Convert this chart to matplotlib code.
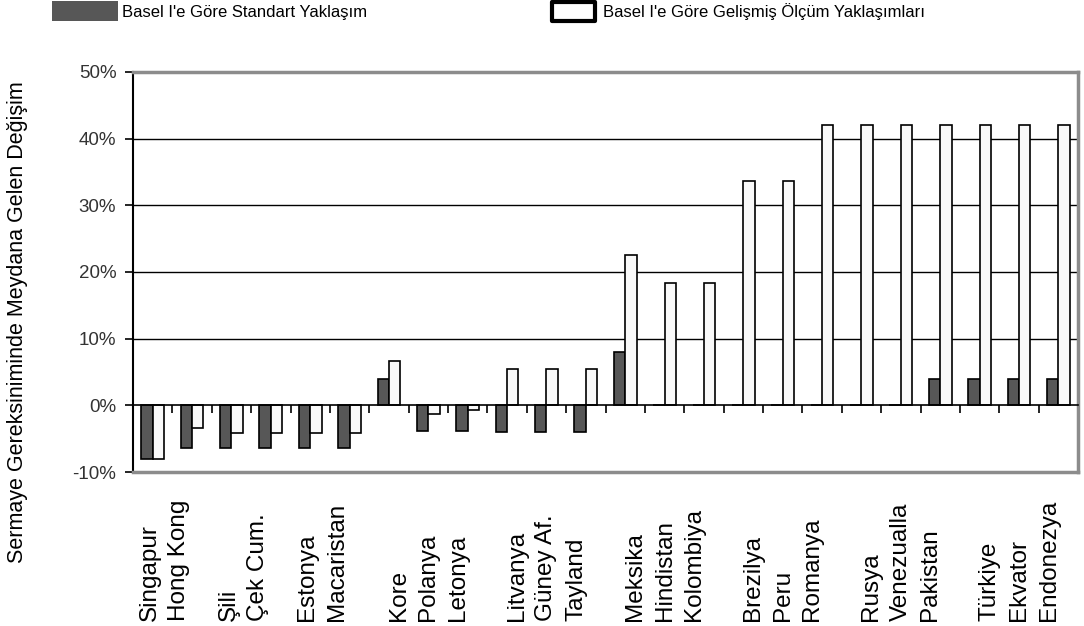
import matplotlib
matplotlib.use("Agg")

import numpy as np
import matplotlib.pyplot as plt
from matplotlib.patches import Rectangle
from matplotlib.transforms import blended_transform_factory

plt.rcParams["font.family"] = ["Liberation Sans", "DejaVu Sans"]

# ==========================
# DATA
# ==========================

countries = ["Singapur", "Hong Kong", "Şili", "Çek Cum.", "Estonya", "Macaristan",
             "Kore", "Polanya", "Letonya", "Litvanya", "Güney Af.", "Tayland",
             "Meksika", "Hindistan", "Kolombiya", "Brezilya", "Peru", "Romanya",
             "Rusya", "Venezualla", "Pakistan", "Türkiye", "Ekvator", "Endonezya"]

# capital requirement change (%)
standard = [-8.0, -6.4, -6.4, -6.4, -6.4, -6.4, 4.0, -3.9, -3.9, -4.0, -4.0, -4.0,
            8.0, 0.0, 0.0, 0.0, 0.0, 0.0, 0.0, 0.0, 4.0, 4.0, 4.0, 4.0]
advanced = [-8.0, -3.4, -4.2, -4.2, -4.2, -4.2, 6.6, -1.3, -0.7, 5.5, 5.5, 5.5,
            22.6, 18.3, 18.3, 33.6, 33.6, 42.0, 42.0, 42.0, 42.0, 42.0, 42.0, 42.0]

# country names are stacked into wrapped category labels
label_groups = [2, 2, 2, 3, 3, 3, 3, 3, 3]

y_ticks = [-10, 0, 10, 20, 30, 40, 50]

legend_std = "Basel I'e Göre Standart Yaklaşım"
legend_adv = "Basel I'e Göre Gelişmiş Ölçüm Yaklaşımları"
y_title = "Sermaye Gereksiniminde Meydana Gelen Değişim"

# ==========================
# STYLE
# ==========================

DARK = "#575757"
LIGHT = "#f9f9f9"
FRAME = "#8c8c8c"
BAR_W = 0.29

W, H = 1084, 626


def fx(px):
    return px / W


def fy(py):
    return 1 - py / H


def main():
    fig = plt.figure(figsize=(W / 100, H / 100), dpi=100)
    ax = fig.add_axes([fx(133), fy(472), fx(1078) - fx(133), fy(72) - fy(472)])

    x = np.arange(len(countries))

    for v in y_ticks[2:-1]:
        ax.axhline(v, color="black", lw=1.0, zorder=0)

    ax.bar(x - BAR_W / 2, standard, BAR_W, color=DARK, edgecolor="black", lw=1.2, zorder=2)
    ax.bar(x + BAR_W / 2, advanced, BAR_W, color=LIGHT, edgecolor="black", lw=1.2, zorder=2)

    ax.set_xlim(-0.5, len(countries) - 0.5)
    ax.set_ylim(-10, 50)

    # y axis
    ax.set_yticks(y_ticks)
    ax.set_yticklabels([f"{v}%" for v in y_ticks])
    ax.tick_params(axis="y", direction="out", length=6, width=1.2, color="black",
                   labelsize=13.5, labelcolor="#333333", pad=6)

    # x axis sits on the zero line, ticks between categories
    ax.spines["bottom"].set_position(("data", 0))
    ax.spines["bottom"].set_color("black")
    ax.spines["bottom"].set_linewidth(1.2)
    ax.set_xticks(np.arange(-0.5, len(countries), 1))
    ax.set_xticklabels([])
    ax.tick_params(axis="x", direction="out", length=6, width=1.2, color="black")

    ax.spines["left"].set_color("black")
    ax.spines["left"].set_linewidth(1.5)
    for side in ("top", "right"):
        ax.spines[side].set_color(FRAME)
        ax.spines[side].set_linewidth(2.5)
    ax.axhline(-10, color=FRAME, lw=2.5, clip_on=False, zorder=3)

    # wrapped category labels
    trans = blended_transform_factory(ax.transData, fig.transFigure)
    start = 0
    for n in label_groups:
        names = countries[start:start + n]
        xpos = np.mean(x[start:start + n]) - (0.2 if n == 2 else 0.0)
        ax.text(xpos, fy(621), "\n".join(names), transform=trans, rotation=90,
                ha="center", va="bottom", multialignment="left",
                fontsize=17.5, linespacing=1.45)
        start += n

    fig.text(fx(18), fy(322), y_title, rotation=90, ha="center", va="center",
             fontsize=15.5)

    # legend
    fig.patches.append(Rectangle((fx(52), fy(21)), fx(118) - fx(52), fy(1) - fy(21),
                                 transform=fig.transFigure, facecolor=DARK,
                                 edgecolor="none"))
    fig.patches.append(Rectangle((fx(552), fy(21)), fx(595) - fx(552), fy(2) - fy(21),
                                 transform=fig.transFigure, facecolor="white",
                                 edgecolor="black", lw=3, joinstyle="round"))
    fig.text(fx(122), fy(12), legend_std, va="center", fontsize=12)
    fig.text(fx(603), fy(12), legend_adv, va="center", fontsize=12)

    fig.savefig("out.png", dpi=100)
    plt.close(fig)


if __name__ == "__main__":
    main()
